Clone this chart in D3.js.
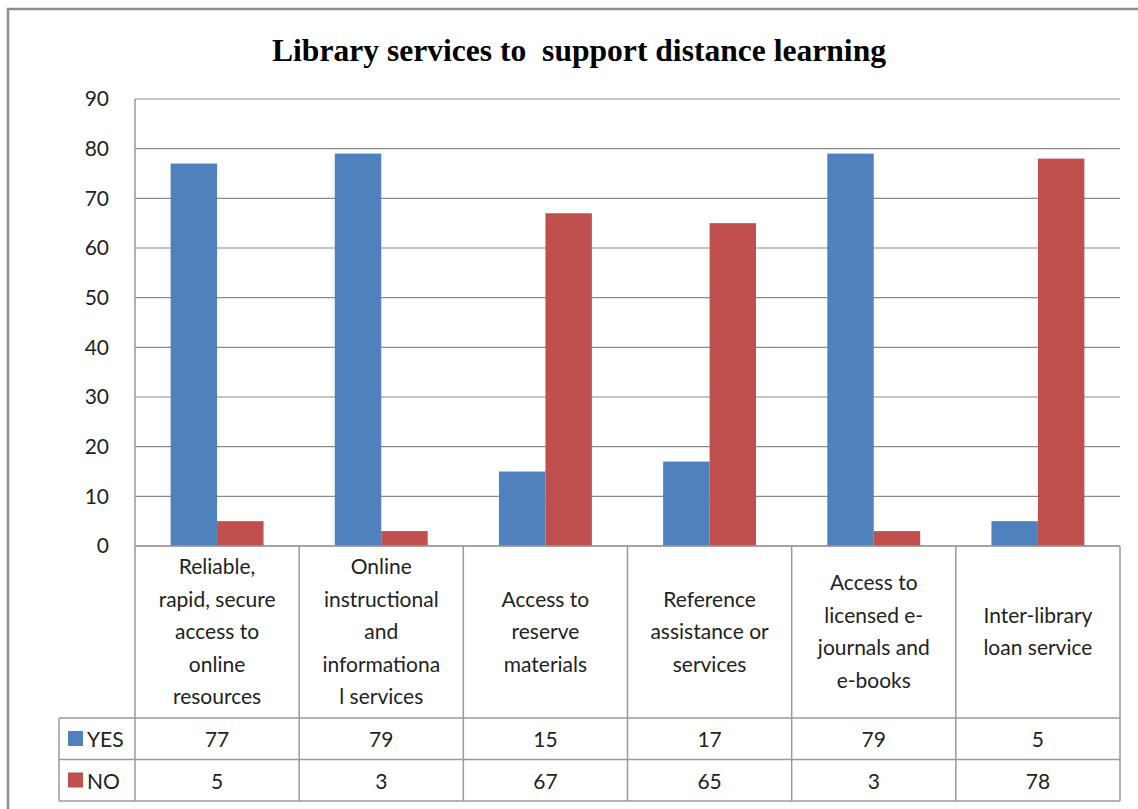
<!DOCTYPE html>
<html>
<head>
<meta charset="utf-8">
<script src="https://cdn.jsdelivr.net/npm/d3@7"></script>
<style>
  body { margin: 0; background: #fff; }
  text { font-family: Lato, "Open Sans", sans-serif; fill: #222; }
</style>
</head>
<body>
<div id="chart"></div>
<script>
const categories = [
    ["Reliable,", "rapid, secure", "access to", "online", "resources"],
    ["Online", "instructional", "and", "informationa", "l services"],
    ["Access to", "reserve", "materials"],
    ["Reference", "assistance or", "services"],
    ["Access to", "licensed e-", "journals and", "e-books"],
    ["Inter-library", "loan service"],
]
const series = ["YES", "NO"]
const yes = [77, 79, 15, 17, 79, 5]
const no = [5, 3, 67, 65, 3, 78]
const colors = ["#4F81BD", "#C0504D"]
const yTicks = [0, 10, 20, 30, 40, 50, 60, 70, 80, 90]

const width = 1138
const height = 809
const plot = { left: 135, right: 1120, top: 99, bottom: 546 }
const table = { left: 59, labelBottom: 718, rowH: 41.5 }

const svg = d3.select("div#chart").append("svg").attr("width", width).attr("height", height)

// outer frame
svg.append("rect").attr("x", 8).attr("y", 9).attr("width", width).attr("height", height)
    .attr("fill", "none").attr("stroke", "#8c8c8c").attr("stroke-width", 2.5)

svg.append("text").attr("x", 579).attr("y", 61).attr("text-anchor", "middle")
    .style("font-family", "'Liberation Serif', 'Times New Roman', serif")
    .style("font-weight", "bold").style("font-size", "32px").style("fill", "#000")
    .attr("xml:space", "preserve")
    .attr("textLength", 614).attr("lengthAdjust", "spacingAndGlyphs")
    .text("Library services to  support distance learning")

const x0 = d3.scaleBand().domain(d3.range(categories.length)).range([plot.left, plot.right])
const x1 = d3.scaleBand().domain(series).range([x0.bandwidth() * 0.217, x0.bandwidth() * 0.783])
const y = d3.scaleLinear().domain([0, 90]).range([plot.bottom, plot.top])

// gridlines
const grid = svg.append("g").attr("class", "grid")
grid.selectAll("line").data(yTicks).enter().append("line")
    .attr("x1", plot.left).attr("x2", plot.right)
    .attr("y1", d => y(d)).attr("y2", d => y(d))
    .attr("stroke", "#8a8a8a").attr("stroke-width", 1.2)

const yAxis = d3.axisLeft(y).tickValues(yTicks).tickSize(0).tickPadding(26)
const yAxisGroup = svg.append("g").attr("transform", `translate(${plot.left}, 0)`).call(yAxis)
yAxisGroup.select(".domain").remove()
yAxisGroup.selectAll("text").style("font-size", "21px").style("font-family", "Lato, sans-serif").attr("fill", "#222")

// bars
const values = [yes, no]
const elementGroup = svg.append("g").attr("class", "elementGroup")
series.forEach((s, si) => {
    elementGroup.selectAll("rect." + s).data(values[si]).enter()
        .append("rect")
        .attr("class", s)
        .attr("x", (d, i) => x0(i) + x1(s))
        .attr("y", d => y(d))
        .attr("width", x1.bandwidth())
        .attr("height", d => y(0) - y(d))
        .attr("fill", colors[si])
})

// data table
const tbl = svg.append("g").attr("class", "table")
const lineColor = "#9a9a9a"
const tableBottom = table.labelBottom + table.rowH * series.length
const hLine = (x1p, x2p, yp) => tbl.append("line").attr("x1", x1p).attr("x2", x2p).attr("y1", yp).attr("y2", yp)
    .attr("stroke", lineColor).attr("stroke-width", 1.5)
const vLine = (xp, y1p, y2p) => tbl.append("line").attr("x1", xp).attr("x2", xp).attr("y1", y1p).attr("y2", y2p)
    .attr("stroke", lineColor).attr("stroke-width", 1.5)

hLine(plot.left, plot.right, plot.bottom)
for (let r = 0; r <= series.length; r++) hLine(table.left, plot.right, table.labelBottom + r * table.rowH)
vLine(plot.left, plot.top, tableBottom)
vLine(table.left, table.labelBottom, tableBottom)
categories.forEach((c, i) => vLine(x0(i) + x0.bandwidth(), plot.bottom, tableBottom))

// category labels
const lineH = 32.5
categories.forEach((lines, i) => {
    const cx = x0(i) + x0.bandwidth() / 2
    const mid = (plot.bottom + table.labelBottom) / 2
    const startY = mid - (lines.length - 1) * lineH / 2 + 7
    tbl.selectAll(null).data(lines).enter().append("text")
        .attr("x", cx).attr("y", (d, j) => startY + j * lineH)
        .attr("text-anchor", "middle").style("font-size", "21px")
        .text(d => d)
})

// series rows
series.forEach((s, si) => {
    const rowTop = table.labelBottom + si * table.rowH
    tbl.append("rect").attr("x", 68).attr("y", rowTop + 13).attr("width", 15).attr("height", 15).attr("fill", colors[si])
    tbl.append("text").attr("x", 87).attr("y", rowTop + 29).style("font-size", "21px").text(s)
    tbl.selectAll(null).data(values[si]).enter().append("text")
        .attr("x", (d, i) => x0(i) + x0.bandwidth() / 2).attr("y", rowTop + 29)
        .attr("text-anchor", "middle").style("font-size", "21px")
        .text(d => d)
})
</script>
</body>
</html>
